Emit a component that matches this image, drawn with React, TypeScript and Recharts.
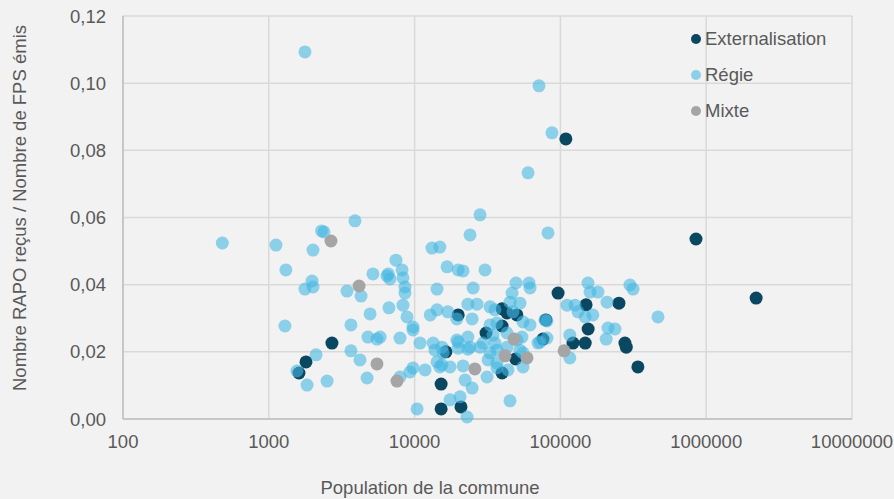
import React from 'react'
import { ScatterChart, Scatter, XAxis, YAxis, CartesianGrid } from 'recharts'

// [population, ratio RAPO / FPS]
const externalisation: [number, number][] = [
  [1800, 0.017], [1610, 0.0137], [2710, 0.0226], [19900, 0.031], [16400, 0.02],
  [15200, 0.0104], [15200, 0.003], [20800, 0.0036], [39800, 0.0328], [39800, 0.0277],
  [43000, 0.0316], [30900, 0.0256], [50300, 0.031], [49300, 0.0179], [39800, 0.0137],
  [79600, 0.0295], [75900, 0.0238], [96400, 0.0375], [150000, 0.034], [155000, 0.0268],
  [122000, 0.0226], [148000, 0.0226], [252000, 0.0345], [277000, 0.0226], [283000, 0.0214],
  [340000, 0.0155], [109000, 0.0834], [851000, 0.0536], [2200000, 0.036]
]

const regie: [number, number][] = [
  [480, 0.0524], [1120, 0.0518], [2300, 0.056], [2390, 0.0557], [3900, 0.059],
  [2010, 0.0503], [1310, 0.0444], [1980, 0.0411], [1770, 0.0387], [2010, 0.0393],
  [3440, 0.0381], [4290, 0.0366], [5180, 0.0432], [6470, 0.0426], [6780, 0.0417],
  [6600, 0.0432], [7450, 0.0473], [1290, 0.0277], [3660, 0.028], [4950, 0.0313],
  [6670, 0.0331], [4790, 0.0244], [5520, 0.0238], [5800, 0.0244], [7940, 0.0241],
  [2110, 0.0191], [3660, 0.0203], [4220, 0.0176], [1560, 0.0143], [1830, 0.0101],
  [2510, 0.0113], [4720, 0.0122], [1770, 0.1093],
  [60000, 0.0733], [28100, 0.0608], [24000, 0.0548], [82200, 0.0554], [13150, 0.0509],
  [14900, 0.0512], [16700, 0.0453], [19900, 0.0444], [21500, 0.0441], [30400, 0.0444],
  [8200, 0.0444], [8320, 0.042], [8590, 0.0393], [8590, 0.0375], [14250, 0.0387],
  [25200, 0.039], [49600, 0.0405], [60900, 0.0405], [61900, 0.039], [46600, 0.0375],
  [154600, 0.0405], [300000, 0.0399], [315000, 0.0387], [159700, 0.0378], [181000, 0.0378],
  [209000, 0.0348], [111000, 0.0339], [126000, 0.0339], [132000, 0.0319], [148000, 0.0304],
  [167000, 0.031], [116000, 0.025], [116000, 0.0182], [212000, 0.0271], [237000, 0.0268],
  [206000, 0.0238], [467000, 0.0304], [8320, 0.0339], [8870, 0.0304], [9750, 0.0274],
  [9750, 0.0265], [10900, 0.0226], [12800, 0.031], [14250, 0.0325], [16900, 0.0319],
  [19500, 0.0298], [24800, 0.0298], [23200, 0.0342], [26800, 0.0342], [32900, 0.0334],
  [35600, 0.0325], [47300, 0.0319], [52800, 0.0345], [55400, 0.0289], [61900, 0.028],
  [80900, 0.0292], [72400, 0.0229], [80900, 0.0241], [13400, 0.0226], [13800, 0.0205],
  [15700, 0.0197], [14250, 0.017], [15400, 0.0161], [17500, 0.0155], [19900, 0.0229],
  [23200, 0.0244], [19900, 0.0211], [23200, 0.0208], [28100, 0.0214], [29500, 0.0226],
  [32900, 0.028], [34500, 0.025], [35600, 0.0226], [36700, 0.0205], [32900, 0.0197],
  [43000, 0.0256], [43000, 0.0214], [50400, 0.0235], [54500, 0.0244], [52800, 0.0205],
  [55400, 0.0197], [21500, 0.0158], [31900, 0.0176], [31400, 0.0125], [36700, 0.0152],
  [43700, 0.0146], [55400, 0.0155], [22200, 0.0116], [24800, 0.0092], [20500, 0.0066],
  [17500, 0.0057], [22900, 0.0006], [10400, 0.003], [45100, 0.0054], [9290, 0.014],
  [9750, 0.0152], [11800, 0.0146], [7940, 0.0125], [71300, 0.0992], [87500, 0.0852],
  [45100, 0.0348], [36700, 0.0286], [78300, 0.0295], [70200, 0.0226], [36700, 0.0167],
  [15400, 0.0214], [19500, 0.0235], [24000, 0.0214], [14900, 0.0155]
]

const mixte: [number, number][] = [
  [2670, 0.053], [4160, 0.0396], [5520, 0.0164], [7570, 0.0113], [25900, 0.0149],
  [48100, 0.0238], [41700, 0.0188], [59000, 0.0182], [106000, 0.0203]
]

const xTicks = [100, 1000, 10000, 100000, 1000000, 10000000]
const yTicks = [0, 0.02, 0.04, 0.06, 0.08, 0.1, 0.12]

const FONT = '"Liberation Sans", Arial, sans-serif'
const TEXT = '#595959'

const series = [
  { name: 'Externalisation', data: externalisation, color: '#0a4760', opacity: 1 },
  { name: 'Régie', data: regie, color: '#46b8e3', opacity: 0.6 },
  { name: 'Mixte', data: mixte, color: '#a5a5a5', opacity: 1 }
]

const toPoints = (rows: [number, number][]) => rows.map(([pop, ratio]) => ({ pop, ratio }))

const dot = (color: string, opacity: number) => (props: any) => (
  <circle cx={props.cx} cy={props.cy} r={6.5} fill={color} fillOpacity={opacity} />
)

export default function App() {
  return (
    <div style={{ position: 'absolute', left: 0, top: 0, width: 894, height: 499, background: '#f2f2f2' }}>
      <ScatterChart width={894} height={499} margin={{ top: 16, right: 42, bottom: 0, left: 0 }}>
        <CartesianGrid stroke="#d9d9d9" strokeWidth={1.5} />
        <XAxis
          type="number"
          dataKey="pop"
          scale="log"
          domain={[100, 10000000]}
          ticks={xTicks}
          allowDataOverflow
          height={80}
          tickLine={false}
          tickMargin={10}
          axisLine={{ stroke: '#bfbfbf', strokeWidth: 1.5 }}
          tick={{ fill: TEXT, fontSize: 18.5, fontFamily: FONT }}
          tickFormatter={(v: number) => String(v)}
          label={{
            content: () => (
              <text x={430} y={494} textAnchor="middle" fill={TEXT} fontSize={18.5} fontFamily={FONT}>
                Population de la commune
              </text>
            )
          }}
        />
        <YAxis
          type="number"
          dataKey="ratio"
          domain={[0, 0.12]}
          ticks={yTicks}
          width={123}
          tickLine={false}
          tickMargin={11}
          axisLine={{ stroke: '#bfbfbf', strokeWidth: 1.5 }}
          tick={{ fill: TEXT, fontSize: 18.5, fontFamily: FONT }}
          tickFormatter={(v: number) => v.toFixed(2).replace('.', ',')}
          label={{
            content: () => (
              <text
                x={26}
                y={208}
                transform="rotate(-90, 26, 208)"
                textAnchor="middle"
                fill={TEXT}
                fontSize={18.5}
                fontFamily={FONT}
              >
                Nombre RAPO reçus / Nombre de FPS émis
              </text>
            )
          }}
        />
        {series.map((s) => (
          <Scatter
            key={s.name}
            name={s.name}
            data={toPoints(s.data)}
            fill={s.color}
            shape={dot(s.color, s.opacity)}
            isAnimationActive={false}
          />
        ))}
      </ScatterChart>
      <div
        style={{
          position: 'absolute',
          left: 691,
          top: 21,
          fontFamily: FONT,
          fontSize: 18.5,
          color: TEXT
        }}
      >
        {series.map((s) => (
          <div key={s.name} style={{ display: 'flex', alignItems: 'center', height: 36 }}>
            <span
              style={{
                width: 10,
                height: 10,
                borderRadius: 5,
                background: s.color,
                opacity: s.opacity,
                marginRight: 4
              }}
            />
            <span>{s.name}</span>
          </div>
        ))}
      </div>
    </div>
  )
}
